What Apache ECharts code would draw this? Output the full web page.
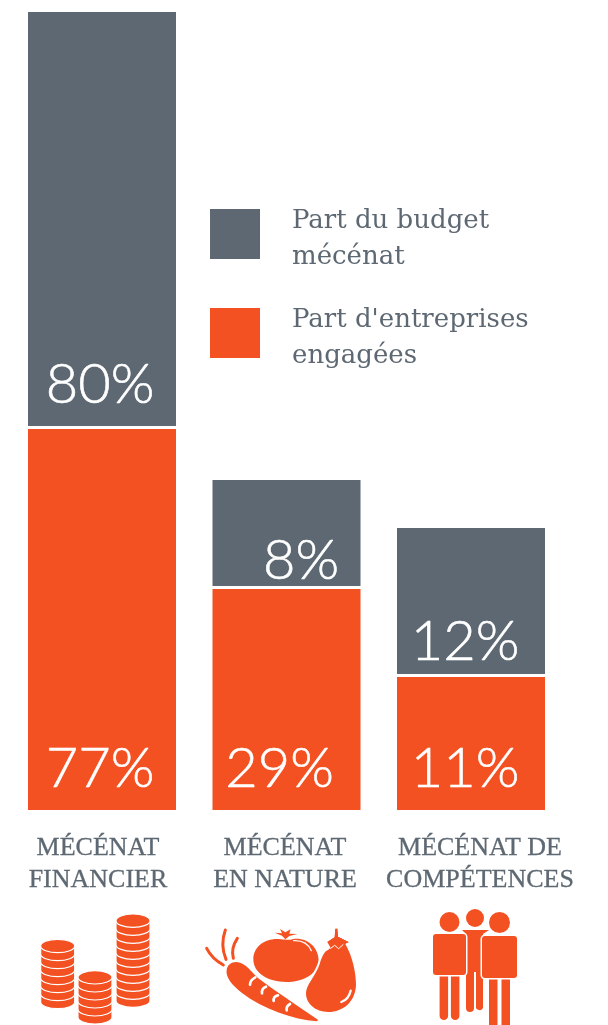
<!DOCTYPE html>
<html>
<head>
<meta charset="utf-8">
<style>
    html, body { margin: 0; padding: 0; background: #fff; }
    #chartWrap { width: 608px; height: 1025px; }
</style>
<script src="https://cdn.jsdelivr.net/npm/echarts@6/dist/echarts.min.js"></script>
</head>
<body>
<div id="chartWrap"></div>
<script>
const categories = ['MÉCÉNAT\nFINANCIER', 'MÉCÉNAT\nEN NATURE', 'MÉCÉNAT DE\nCOMPÉTENCES'];
const budgetName = 'Part du budget mécénat';
const companyName = "Part d'entreprises engagées";

// the drawn heights do not follow the printed percentages, so both are kept
const budgetHeights = [414, 106, 146];
const companyHeights = [381, 221, 133];
const budgetLabels = ['80%', '8%', '12%'];
const companyLabels = ['77%', '29%', '11%'];

const GRAY = '#5d6872';
const ORANGE = '#f45122';
const GAP = 3;

// label nudges from the inside bottom of each bar
const budgetShift = [[-2, -8], [14.5, 8], [-6, 1]];
const companyShift = [[-2, -8], [-7, -8], [-6, -8]];
const categoryPad = [[0, 8, 0, 0], [0, 3, 0, 0], [0, 0, 0, 18]];

function barData(heights, labels, shift) {
    return heights.map(function (h, i) {
        return {value: h, label: {formatter: labels[i], offset: shift[i]}};
    });
}

const barLabel = {
    show: true,
    position: 'insideBottom',
    color: '#fff',
    fontFamily: 'Lato',
    fontWeight: 300,
    fontSize: 56,
    textBorderColor: '#fff',
    textBorderWidth: 0.6
};

// the graphic component has no plain path type, so each icon path gets its own shape
let pathCount = 0;
function pathEl(d, style) {
    const name = 'iconPath' + (pathCount++);
    echarts.graphic.registerShape(name, echarts.graphic.extendPath(d, {}));
    return {type: name, style: style};
}

// icons, drawn in 3x coordinates
function coinStack(cx, top, count) {
    const rx = 51, ry = 20, h = 24;
    let list = [];
    for (let i = count - 1; i >= 0; i--) {
        const y = top + i * h;
        list.push(pathEl(
            'M' + (cx - rx) + ' ' + y + 'L' + (cx - rx) + ' ' + (y + h) +
            'A' + rx + ' ' + ry + ' 0 0 0 ' + (cx + rx) + ' ' + (y + h) +
            'L' + (cx + rx) + ' ' + y +
            'A' + rx + ' ' + ry + ' 0 0 0 ' + (cx - rx) + ' ' + y + 'Z',
            {fill: ORANGE, stroke: '#fff', lineWidth: 3.5}
        ));
    }
    list.push({
        type: 'ellipse',
        shape: {cx: cx, cy: top, rx: rx, ry: ry},
        style: {fill: ORANGE, stroke: '#fff', lineWidth: 3.5}
    });
    return list;
}

function solid(d, stroke) {
    return pathEl(d, {fill: ORANGE, stroke: stroke || null, lineWidth: stroke ? 12 : 0, strokeFirst: true});
}

function line(d, color, width) {
    return pathEl(d, {fill: null, stroke: color, lineWidth: width, lineCap: 'round'});
}

const coins = {
    type: 'group', x: 35, y: 910, scaleX: 1 / 3, scaleY: 1 / 3,
    children: coinStack(68, 108, 7).concat(coinStack(180, 202, 5), coinStack(294, 32, 10))
};

const veggies = {
    type: 'group', x: 200, y: 920, scaleX: 1 / 3, scaleY: 1 / 3,
    children: [
        line('M20 85Q35 115 70 135', ORANGE, 9),
        line('M76 30Q60 75 78 118', ORANGE, 9),
        line('M112 55Q92 85 100 115', ORANGE, 9),
        solid('M160 118C160 80 195 55 235 57C250 58 265 62 280 57C325 52 356 85 356 122C356 160 310 186 258 186C205 186 160 160 160 118Z'),
        solid('M224 38L246 40L240 27L256 37L272 28L268 41L292 42L268 48L256 58L246 47Z'),
        line('M281 62Q320 60 334 92', '#fff', 4),
        solid('M80 150C82 132 100 122 120 128C140 135 150 150 175 175C215 205 280 250 355 300L350 304C280 298 190 268 125 218C95 195 76 170 80 150Z', '#fff'),
        line('M150 194Q150 180 166 172', '#fff', 8),
        line('M186 220Q184 205 198 200', '#fff', 8),
        line('M221 243Q219 230 234 226', '#fff', 8),
        line('M260 271Q258 258 270 252', '#fff', 8),
        solid('M406 26L412 26L414 50L445 66L436 72C458 110 468 160 468 195C466 245 430 276 385 276C345 276 318 250 318 220C318 195 345 170 358 135C366 110 372 95 384 90L398 78L382 66L404 52Z', '#fff'),
        solid('M406 26L412 26L414 50L447 67L428 72L416 84L404 74L392 84L382 66L404 52Z'),
        line('M392 85L404 76L416 86L429 74', '#fff', 3),
        line('M424 246Q446 238 452 212', '#fff', 7)
    ]
};

function person(headX, headY, headR, left, right, top, bottom, legEnd, legW) {
    const l1 = left + (right - left) * 0.2;
    const l2 = right - (right - left) * 0.2 - legW;
    return [
        {type: 'circle', shape: {cx: headX, cy: headY, r: headR}, style: {fill: ORANGE}},
        {type: 'rect', shape: {x: l1, y: bottom - 5, width: legW, height: legEnd - bottom + 5, r: legW / 2}, style: {fill: ORANGE}},
        {type: 'rect', shape: {x: l2, y: bottom - 5, width: legW, height: legEnd - bottom + 5, r: legW / 2}, style: {fill: ORANGE}},
        {type: 'rect', shape: {x: left, y: top, width: right - left, height: bottom - top, r: 3}, style: {fill: ORANGE, stroke: '#fff', lineWidth: 3, strokeFirst: true}}
    ];
}

const people = {
    type: 'group',
    children: [
        {type: 'circle', shape: {cx: 475, cy: 918, r: 9}, style: {fill: ORANGE}},
        pathEl('M462 930L489 930L483 934L483 1008A4 4 0 0 1 476 1008L476 972L474 972L474 1008A4 4 0 0 1 466 1008L466 934Z', {fill: ORANGE})
    ].concat(
        person(449.5, 922, 10, 433, 466, 934, 975, 1020, 8.5),
        person(499.5, 922.5, 10.5, 482, 517, 936, 978, 1030, 8.5)
    )
};

let myChart = echarts.init(document.getElementById('chartWrap'));

myChart.setOption({
    animation: false,
    legend: {
        data: [budgetName, companyName],
        orient: 'vertical',
        left: 210,
        top: 197,
        padding: 0,
        itemWidth: 50,
        itemHeight: 50,
        itemGap: 26,
        icon: 'rect',
        selectedMode: false,
        // the empty first row pushes the two text rows a little below the swatch centre
        formatter: function (name) {
            return name === budgetName
                ? '{s| }\n{t|Part du budget}\n{t|mécénat}'
                : "{s| }\n{t|Part d'entreprises}\n{t|engagées}";
        },
        textStyle: {
            color: GRAY,
            fontFamily: 'DejaVu Serif',
            fontSize: 26,
            padding: [0, 0, 0, 27],
            rich: {
                s: {fontSize: 2, lineHeight: 10},
                t: {color: GRAY, fontFamily: 'DejaVu Serif', fontSize: 26, lineHeight: 36}
            }
        }
    },
    grid: {left: 9.75, top: 12, width: 553.5, height: 798},
    xAxis: {
        type: 'category',
        data: categories.map(function (c, i) {
            return {value: c, textStyle: {padding: categoryPad[i]}};
        }),
        axisLine: {show: false},
        axisTick: {show: false},
        axisLabel: {
            interval: 0,
            margin: 22,
            color: GRAY,
            fontFamily: 'Liberation Serif',
            fontSize: 26,
            lineHeight: 32,
            textBorderColor: GRAY,
            textBorderWidth: 0.3
        }
    },
    yAxis: {type: 'value', min: 0, max: 798, show: false},
    series: [
        {
            name: companyName,
            type: 'bar',
            stack: 'total',
            barWidth: 148,
            itemStyle: {color: ORANGE},
            label: barLabel,
            data: barData(companyHeights, companyLabels, companyShift)
        },
        {
            name: 'gap',
            type: 'bar',
            stack: 'total',
            barWidth: 148,
            itemStyle: {color: 'transparent'},
            data: companyHeights.map(function () { return GAP; })
        },
        {
            name: budgetName,
            type: 'bar',
            stack: 'total',
            barWidth: 148,
            itemStyle: {color: GRAY},
            label: barLabel,
            data: barData(budgetHeights, budgetLabels, budgetShift)
        }
    ],
    graphic: [coins, veggies, people]
});
</script>
</body>
</html>
